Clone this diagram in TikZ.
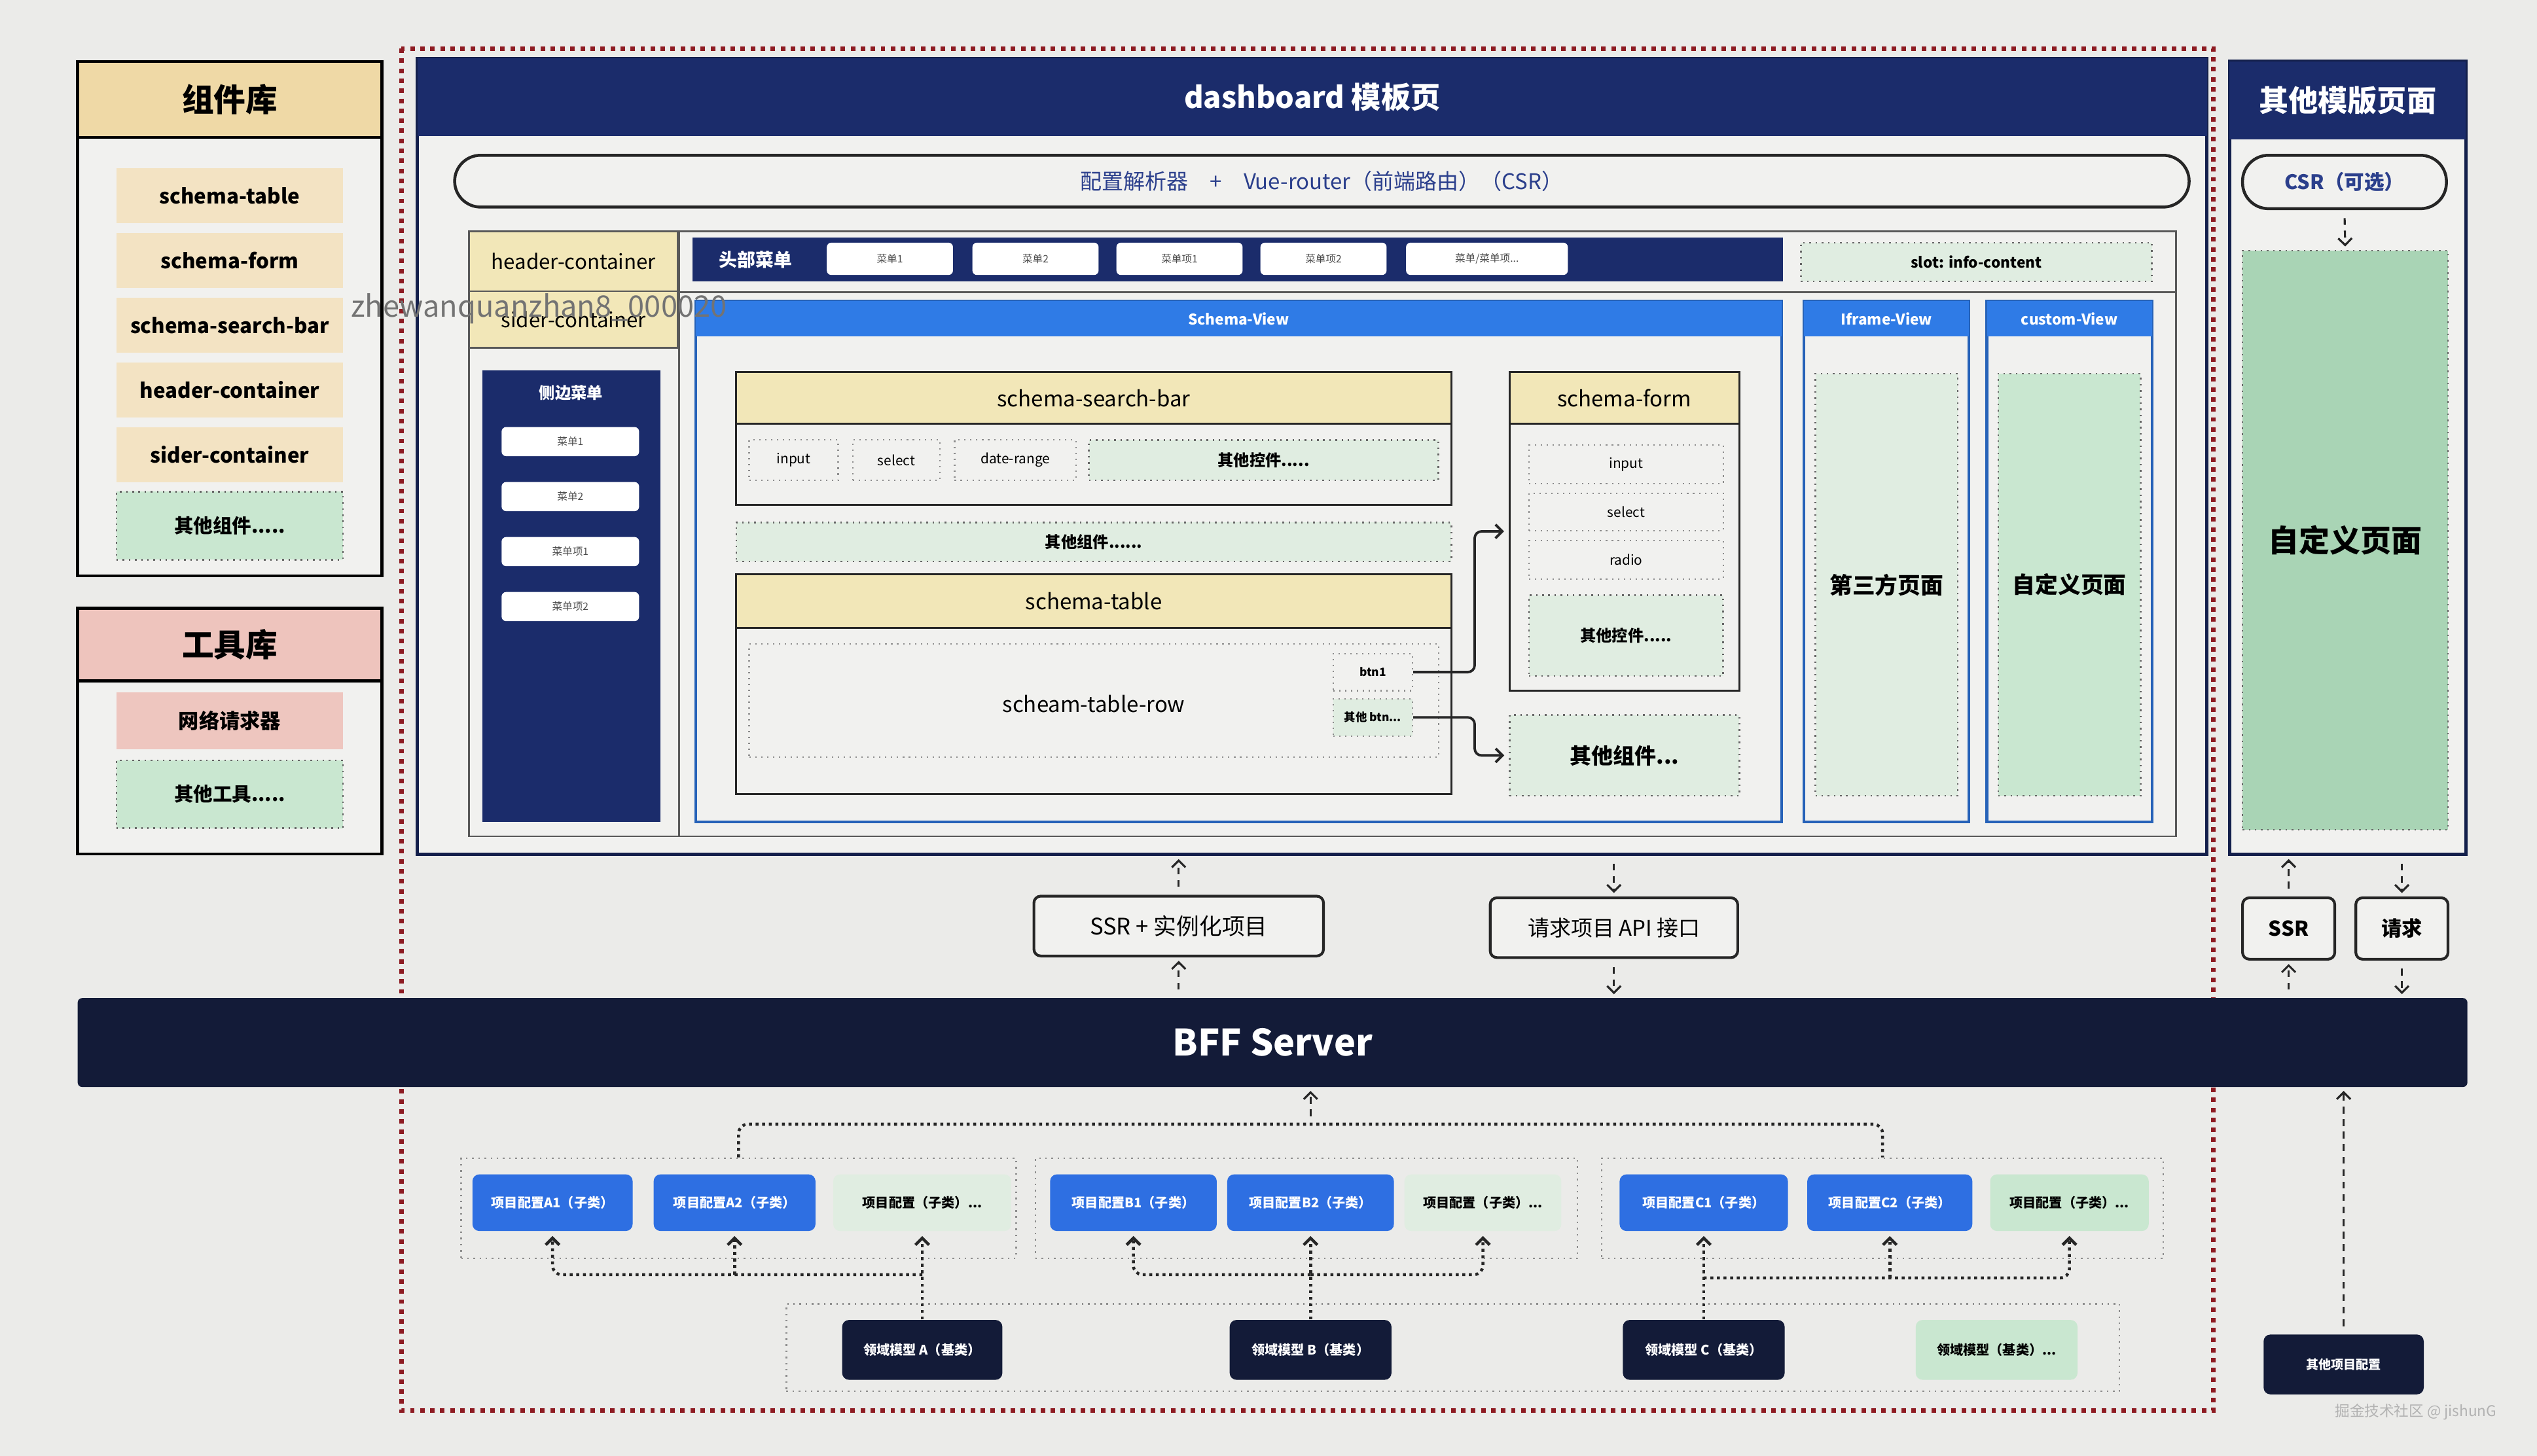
\documentclass[tikz,border=0pt]{standalone}
\usepackage{fontspec}
\setmainfont{Noto Sans CJK SC}
\usetikzlibrary{arrows.meta}

\definecolor{paper}{HTML}{EBEBE9}
\definecolor{panelfill}{HTML}{F1F1EF}
\definecolor{navy}{HTML}{1B2C6B}
\definecolor{darknavy}{HTML}{131B38}
\definecolor{brightblue}{HTML}{2F7BE6}
\definecolor{boxblue}{HTML}{2E6FE2}
\definecolor{yellowhead}{HTML}{F2E7B8}
\definecolor{tanitem}{HTML}{F3E3C3}
\definecolor{tanhead}{HTML}{EFD9A6}
\definecolor{pinkhead}{HTML}{EEC4BD}
\definecolor{pinkitem}{HTML}{EEC6BF}
\definecolor{greenfill}{HTML}{C9E7D0}
\definecolor{greenfaint}{HTML}{E0EDE1}
\definecolor{greenright}{HTML}{A9D4B5}
\definecolor{reddot}{HTML}{8E1B22}
\definecolor{textblue}{HTML}{2B3F8C}

\tikzset{
  boxsize/.style 2 args={minimum width=#1*0.25mm, minimum height=#2*0.25mm, inner sep=0pt},
  libpanel/.style={draw=black, line width=1.3pt, fill=panelfill},
  libhead/.style={draw=black, line width=1.3pt, font=\bfseries\fontsize{14}{16}\selectfont},
  libitem/.style={fill=tanitem, font=\bfseries\fontsize{9}{10}\selectfont},
  dotbox/.style={draw=black!60, dotted, line width=0.7pt, fill=greenfill, font=\bfseries\fontsize{7}{8}\selectfont},
  fieldbox/.style={draw=black!45, dotted, line width=0.6pt, font=\fontsize{6}{7}\selectfont},
  navyband/.style={fill=navy, text=white},
  pagepanel/.style={draw=navy!70!black, line width=1.4pt, fill=panelfill},
  pill/.style={draw=black!85, line width=1.3pt, rounded corners=4mm, fill=panelfill},
  layoutline/.style={draw=black!65, line width=0.8pt},
  cellhead/.style={draw=black!65, line width=0.8pt, fill=yellowhead, font=\fontsize{9}{10}\selectfont},
  menubtn/.style={fill=white, rounded corners=2pt, text=black!70, font=\fontsize{4.5}{5}\selectfont},
  viewframe/.style={draw=brightblue!80!black, line width=1.2pt, fill=panelfill},
  viewhead/.style={fill=brightblue, text=white, font=\bfseries\fontsize{6.5}{7}\selectfont},
  compbox/.style={draw=black!85, line width=0.9pt, fill=panelfill},
  comphead/.style={draw=black!85, line width=0.9pt, fill=yellowhead, font=\fontsize{9.5}{11}\selectfont},
  apibox/.style={draw=black!85, line width=1.2pt, rounded corners=3pt, fill=panelfill},
  bffband/.style={fill=darknavy, rounded corners=2pt, text=white, font=\bfseries\fontsize{16}{18}\selectfont},
  groupbox/.style={draw=black!45, dotted, line width=0.7pt},
  cfgbox/.style={fill=boxblue, rounded corners=3pt, text=white, font=\bfseries\fontsize{5.8}{7}\selectfont},
  modelbox/.style={fill=darknavy, rounded corners=3pt, text=white, font=\bfseries\fontsize{5.8}{7}\selectfont},
  etcbox/.style={fill=greenfaint, rounded corners=3pt, font=\bfseries\fontsize{5.8}{7}\selectfont},
  redframe/.style={draw=reddot, line width=2pt, dash pattern=on 2pt off 2.4pt},
  dasharrow/.style={draw=black!85, line width=0.9pt, dash pattern=on 3pt off 2.5pt, -{Straight Barb[length=3pt, width=6pt]}, shorten <=3.5pt, shorten >=1.5pt},
  linkarrow/.style={draw=black!85, line width=1.1pt, -{Straight Barb[length=3pt, width=6pt]}, rounded corners=3pt, shorten >=2pt},
  dotarrow/.style={draw=black!85, line width=1.3pt, dash pattern=on 1.3pt off 1.6pt, -{Straight Barb[length=3pt, width=6pt]}, shorten >=2pt},
  treeline/.style={draw=black!85, line width=1.3pt, dash pattern=on 1.3pt off 1.6pt}
}

\begin{document}
\begin{tikzpicture}[x=0.25mm, y=-0.25mm]
\useasboundingbox (0,0) rectangle (1568,900);
\fill[paper] (0,0) rectangle (1568,900);

% outer red frame
\draw[redframe] (248,30) rectangle (1368,872);

% component library
\node[libpanel, boxsize={188}{318}] (complib) at (142,197) {};
\node[libhead, fill=tanhead, boxsize={188}{47}] (complibhead) at (142,61.5) {组件库};
\foreach \lbl [count=\i] in {schema-table,schema-form,schema-search-bar,header-container,sider-container}
  \node[libitem, boxsize={140}{34}] (comp\i) at (142,81+40*\i) {\lbl};
\node[dotbox, boxsize={140}{42}, font=\bfseries\fontsize{8.5}{10}\selectfont] (competc) at (142,325) {其他组件.....};

% tool library
\node[libpanel, boxsize={188}{152}] (toollib) at (142,452) {};
\node[libhead, fill=pinkhead, boxsize={188}{45}] (toollibhead) at (142,398.5) {工具库};
\node[libitem, fill=pinkitem, boxsize={140}{35}] (netreq) at (142,445.5) {网络请求器};
\node[dotbox, boxsize={140}{42}, font=\bfseries\fontsize{8.5}{10}\selectfont] (tooletc) at (142,491) {其他工具.....};

% dashboard page
\node[pagepanel, boxsize={1106}{492}] (dash) at (811,282) {};
\node[navyband, boxsize={1106}{48}, font=\bfseries\fontsize{13}{15}\selectfont] (dashhead) at (811,60) {dashboard 模板页};
\node[pill, boxsize={1072}{32}, text=textblue, font=\fontsize{9.5}{11}\selectfont] (router) at (817,112) {配置解析器\quad +\quad Vue-router（前端路由）（CSR）};

\node[draw=black!65, line width=0.8pt, boxsize={1055}{374}] (layout) at (817.5,330) {};
\node[cellhead, boxsize={129}{37}] (hcont) at (354.5,161.5) {header-container};
\node[cellhead, boxsize={129}{35}] (scont) at (354.5,197.5) {sider-container};
\draw[layoutline] (hcont.north east) -- (hcont.north east |- layout.south);
\draw[layoutline] (hcont.south east) -- (hcont.south east -| layout.east);

% header menu
\node[navyband, boxsize={674}{27}] (topmenu) at (765,160.5) {};
\node[text=white, font=\bfseries\fontsize{8}{9}\selectfont] (topmenulbl) at (467,160.5) {头部菜单};
\foreach \lbl/\x [count=\i] in {菜单1/550,菜单2/640,菜单项1/729,菜单项2/818}
  \node[menubtn, boxsize={78}{20}] (topbtn\i) at (\x,160) {\lbl};
\node[menubtn, boxsize={100}{20}] (topbtn5) at (919,160) {菜单/菜单项...};
\node[dotbox, fill=greenfaint, boxsize={217}{24}, font=\bfseries\fontsize{6.5}{7}\selectfont] (slot) at (1221.5,162) {slot: info-content};

% side menu
\node[navyband, boxsize={110}{279}] (sidemenu) at (353,368.5) {};
\node[text=white, font=\bfseries\fontsize{7}{8}\selectfont] (sidemenulbl) at (353,243) {侧边菜单};
\foreach \lbl [count=\i] in {菜单1,菜单2,菜单项1,菜单项2}
  \node[menubtn, boxsize={85}{18}] (sidebtn\i) at (352.5,239+34*\i) {\lbl};

% schema view
\node[viewframe, boxsize={671}{322}] (sview) at (765.5,347) {};
\node[viewhead, boxsize={671}{22}] (sviewhead) at (765.5,197) {Schema-View};

\node[compbox, boxsize={442}{82}] (sbar) at (676,271) {};
\node[comphead, boxsize={442}{32}] (sbarhead) at (676,246) {schema-search-bar};
\node[fieldbox, boxsize={55}{25}] (sbinput) at (490.5,284.5) {input};
\node[fieldbox, boxsize={54}{25}] (sbselect) at (554,284.5) {select};
\node[fieldbox, boxsize={75}{25}] (sbdate) at (627.5,284.5) {date-range};
\node[dotbox, fill=greenfaint, boxsize={216}{25}] (sbetc) at (781,284.5) {其他控件.....};

\node[dotbox, fill=greenfaint, boxsize={442}{24}] (sviewetc) at (676,335) {其他组件......};

\node[compbox, boxsize={442}{136}] (stable) at (676,423) {};
\node[comphead, boxsize={442}{33}] (stablehead) at (676,371.5) {schema-table};
\node[fieldbox, boxsize={426}{70}] (trow) at (676,433) {};
\node[font=\fontsize{9.5}{11}\selectfont] (trowlbl) at (676,435) {scheam-table-row};
\node[fieldbox, boxsize={49}{23}, font=\bfseries\fontsize{5}{6}\selectfont] (btnone) at (848.5,415.5) {btn1};
\node[fieldbox, fill=greenfaint, boxsize={49}{23}, font=\bfseries\fontsize{5}{6}\selectfont] (btnetc) at (848.5,443.5) {其他 btn...};

\node[compbox, boxsize={142}{197}] (sform) at (1004,328.5) {};
\node[comphead, boxsize={142}{32}] (sformhead) at (1004,246) {schema-form};
\node[fieldbox, boxsize={120}{24}] (sfinput) at (1005,287) {input};
\node[fieldbox, boxsize={120}{23}] (sfselect) at (1005,316.5) {select};
\node[fieldbox, boxsize={120}{24}] (sfradio) at (1005,346) {radio};
\node[dotbox, fill=greenfaint, boxsize={120}{50}] (sfetc) at (1005,393) {其他控件.....};
\node[dotbox, fill=greenfaint, boxsize={142}{50}, font=\bfseries\fontsize{9.5}{11}\selectfont] (formetc) at (1004,467) {其他组件...};

\draw[linkarrow] (btnone.east) -- ++(38,0) |- (sform.west);
\draw[linkarrow] (btnetc.east) -- ++(38,0) |- (formetc.west);

% iframe and custom views
\node[viewframe, boxsize={102}{322}] (iframe) at (1166,347) {};
\node[viewhead, boxsize={102}{22}] (iframehead) at (1166,197) {Iframe-View};
\node[dotbox, fill=greenfaint, boxsize={88}{261}, font=\bfseries\fontsize{10}{12}\selectfont] (thirdpage) at (1166,361.5) {第三方页面};
\node[viewframe, boxsize={102}{322}] (custom) at (1279,347) {};
\node[viewhead, boxsize={102}{22}] (customhead) at (1279,197) {custom-View};
\node[dotbox, boxsize={88}{261}, font=\bfseries\fontsize{10}{12}\selectfont] (custompage) at (1279,361.5) {自定义页面};

% other template pages
\node[pagepanel, boxsize={146}{490}] (other) at (1451,283) {};
\node[navyband, boxsize={146}{48}, font=\bfseries\fontsize{13}{15}\selectfont] (otherhead) at (1451,62) {其他模版页面};
\node[pill, boxsize={126}{33}, text=textblue, font=\bfseries\fontsize{8.8}{10}\selectfont] (csr) at (1449,112.5) {CSR（可选）};
\node[dotbox, fill=greenright, boxsize={127}{358}, font=\bfseries\fontsize{13.5}{15}\selectfont] (otherpage) at (1449.5,334) {自定义页面};
\draw[dasharrow] (csr.south) -- (otherpage.north);

\node[apibox, boxsize={57}{38}, font=\bfseries\fontsize{9}{10}\selectfont] (ssr) at (1414.5,574) {SSR};
\node[apibox, boxsize={57}{38}, font=\bfseries\fontsize{9}{10}\selectfont] (req) at (1484.5,574) {请求};

% ssr and api boxes
\node[apibox, boxsize={179}{37}, font=\fontsize{10}{12}\selectfont] (ssrinst) at (728.5,572.5) {SSR + 实例化项目};
\node[apibox, boxsize={153}{37}, font=\fontsize{9.5}{11}\selectfont] (api) at (997.5,573.5) {请求项目 API 接口};

% bff server
\node[bffband, boxsize={1477}{55}] (bff) at (786.5,644.5) {BFF Server};

\draw[dasharrow] (ssrinst.north) -- (ssrinst.north |- dash.south);
\draw[dasharrow] (ssrinst.south |- bff.north) -- (ssrinst.south);
\draw[dasharrow] (api.north |- dash.south) -- (api.north);
\draw[dasharrow] (api.south) -- (api.south |- bff.north);
\draw[dasharrow] (ssr.north) -- (ssr.north |- other.south);
\draw[dasharrow] (ssr.south |- bff.north) -- (ssr.south);
\draw[dasharrow] (req.north |- other.south) -- (req.north);
\draw[dasharrow] (req.south) -- (req.south |- bff.north);

% project configs
\node[groupbox, boxsize={343}{62}] (grpa) at (456.5,747) {};
\node[groupbox, boxsize={335}{62}] (grpb) at (807.5,747) {};
\node[groupbox, boxsize={347}{62}] (grpc) at (1163.5,747) {};
\coordinate (treetop) at (810,695);
\draw[treeline, rounded corners=4pt] (grpa.north) |- (treetop) -| (grpc.north);
\draw[dasharrow] (treetop) -- (treetop |- bff.south);

\node[cfgbox, boxsize={99}{35}] (cfga1) at (341.5,743.5) {项目配置A1（子类）};
\node[cfgbox, boxsize={100}{35}] (cfga2) at (454,743.5) {项目配置A2（子类）};
\node[etcbox, boxsize={110}{35}] (cfgaetc) at (570,743.5) {项目配置（子类）...};
\node[cfgbox, boxsize={103}{35}] (cfgb1) at (700.5,743.5) {项目配置B1（子类）};
\node[cfgbox, boxsize={103}{35}] (cfgb2) at (810,743.5) {项目配置B2（子类）};
\node[etcbox, boxsize={97}{35}] (cfgbetc) at (916.5,743.5) {项目配置（子类）...};
\node[cfgbox, boxsize={104}{35}] (cfgc1) at (1053,743.5) {项目配置C1（子类）};
\node[cfgbox, boxsize={102}{35}] (cfgc2) at (1168,743.5) {项目配置C2（子类）};
\node[etcbox, fill=greenfill, boxsize={98}{35}] (cfgcetc) at (1279,743.5) {项目配置（子类）...};

% domain models
\node[groupbox, boxsize={824}{54}] (domgrp) at (898,833) {};
\node[modelbox, boxsize={99}{37}] (doma) at (570,834.5) {领域模型 A（基类）};
\node[modelbox, boxsize={100}{37}] (domb) at (810,834.5) {领域模型 B（基类）};
\node[modelbox, boxsize={100}{37}] (domc) at (1053,834.5) {领域模型 C（基类）};
\node[etcbox, fill=greenfill, boxsize={100}{37}] (dometc) at (1234,834.5) {领域模型（基类）...};

\coordinate (joina) at (570,788);
\coordinate (joinb) at (810,788);
\coordinate (joinc) at (1053,790);
\draw[dotarrow] (doma.north) -- (cfgaetc.south);
\draw[dotarrow, rounded corners=4pt] (joina) -| (cfga1.south);
\draw[dotarrow] (cfga2.south |- joina) -- (cfga2.south);
\draw[dotarrow] (domb.north) -- (cfgb2.south);
\draw[dotarrow, rounded corners=4pt] (joinb) -| (cfgb1.south);
\draw[dotarrow, rounded corners=4pt] (joinb) -| (cfgbetc.south);
\draw[dotarrow] (domc.north) -- (cfgc1.south);
\draw[dotarrow, rounded corners=4pt] (joinc) -| (cfgcetc.south);
\draw[dotarrow] (cfgc2.south |- joinc) -- (cfgc2.south);

\node[modelbox, boxsize={99}{37}, font=\bfseries\fontsize{5.5}{6}\selectfont] (otherconf) at (1448.5,843.5) {其他项目配置};
\draw[dasharrow] (otherconf.north) -- (otherconf.north |- bff.south);

% watermarks
\node[anchor=east, text=gray!60, font=\fontsize{6.5}{7}\selectfont] (mark) at (1548,873) {掘金技术社区 @ jishunG};
\node[anchor=west, text=black!55, font=\fontsize{13}{15}\selectfont] (overlay) at (212,191) {zhewanquanzhan8\_000020};
\end{tikzpicture}
\end{document}
